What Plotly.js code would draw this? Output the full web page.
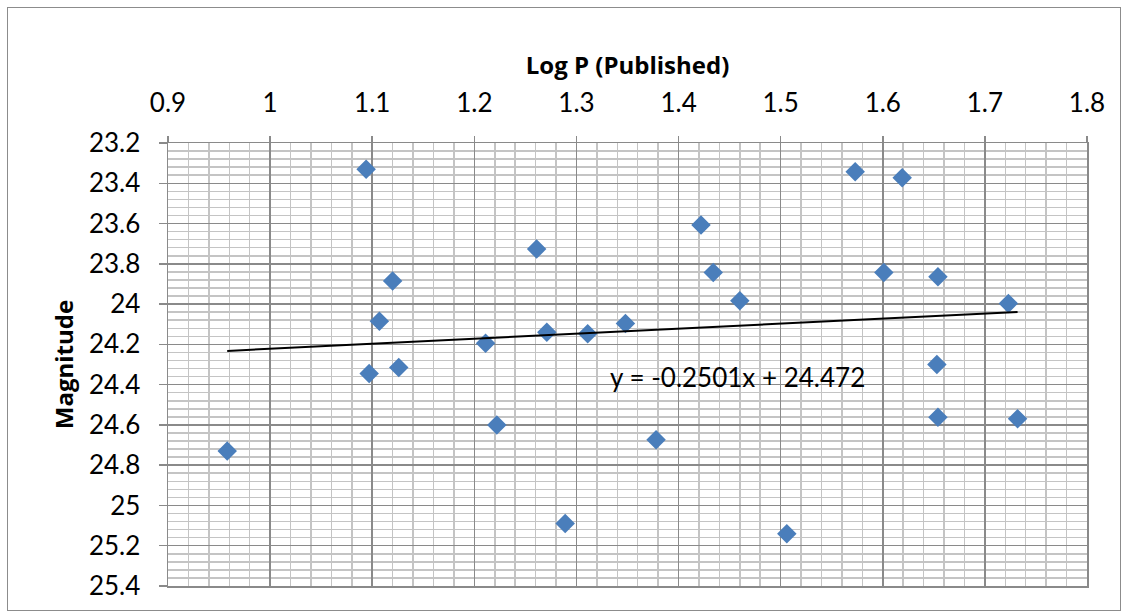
<!DOCTYPE html>
<html>
<head>
<meta charset="utf-8">
<script src="https://cdn.plot.ly/plotly-3.0.1.min.js"></script>
<style>
  html, body { margin: 0; padding: 0; background: #ffffff; }
  #frame { position: absolute; left: 7px; top: 7px; width: 1114px; height: 604px; border: 1px solid #8c8c8c; box-sizing: border-box; }
  #chart { position: absolute; left: 0; top: 0; width: 1129px; height: 616px; }
</style>
</head>
<body>
<div id="frame"></div>
<div id="chart"></div>
<script>
// Data
const logP = [0.958, 1.094, 1.120, 1.107, 1.097, 1.126, 1.211, 1.222, 1.261, 1.271,
              1.289, 1.311, 1.348, 1.378, 1.422, 1.434, 1.460, 1.506, 1.573, 1.601,
              1.619, 1.654, 1.653, 1.654, 1.723, 1.732];
const magnitude = [24.73, 23.33, 23.885, 24.085, 24.345, 24.315, 24.195, 24.60, 23.727, 24.14,
                   25.09, 24.147, 24.097, 24.674, 23.607, 23.843, 23.983, 25.14, 23.343, 23.843,
                   23.373, 23.864, 24.30, 24.562, 23.997, 24.57];
const xTickVals = [0.9, 1, 1.1, 1.2, 1.3, 1.4, 1.5, 1.6, 1.7, 1.8];
const yTickVals = [23.2, 23.4, 23.6, 23.8, 24, 24.2, 24.4, 24.6, 24.8, 25, 25.2, 25.4];
// Linear trendline as shown on the chart
const trendSlope = -0.2501;
const trendIntercept = 24.472;
const trendLabel = "y = -0.2501x + 24.472";

const xMin = Math.min(...logP), xMax = Math.max(...logP);
const trendX = [xMin, xMax];
const trendY = trendX.map(x => trendSlope * x + trendIntercept);

const FONT = "Lato, 'Open Sans', sans-serif";
const TITLE_FONT = "'Open Sans', Lato, sans-serif";
const MAJOR = "#8a8a8a", MINOR = "#c4c4c4";

const traces = [
  {
    x: logP, y: magnitude, type: "scatter", mode: "markers",
    marker: { symbol: "diamond", size: 15, color: "#4a7ebb", line: { width: 0 } },
    hoverinfo: "x+y"
  },
  {
    x: trendX, y: trendY, type: "scatter", mode: "lines",
    line: { color: "#000000", width: 2 }, hoverinfo: "skip"
  }
];

const layout = {
  width: 1129, height: 616,
  paper_bgcolor: "rgba(0,0,0,0)", plot_bgcolor: "#ffffff",
  showlegend: false,
  margin: { l: 168, r: 42, t: 143, b: 30 },
  font: { family: FONT, color: "#000000" },
  xaxis: {
    side: "top", range: [0.9, 1.8], tickvals: xTickVals,
    ticks: "outside", ticklen: 6, tickcolor: MAJOR, tickwidth: 1.5,
    ticklabelstandoff: 13,
    tickfont: { family: FONT, size: 26, color: "#000000" },
    showgrid: true, gridcolor: MAJOR, gridwidth: 1.5,
    minor: { dtick: 0.02, showgrid: true, gridcolor: MINOR, gridwidth: 1.5, ticks: "" },
    showline: true, linecolor: MAJOR, linewidth: 1.5, mirror: true,
    zeroline: false,
    title: { text: "Log P (Published)", font: { family: TITLE_FONT, size: 24, color: "#000000", weight: "bold" }, standoff: 4 }
  },
  yaxis: {
    range: [25.4, 23.2], tickvals: yTickVals,
    ticks: "outside", ticklen: 8, tickcolor: MAJOR, tickwidth: 1.5,
    ticklabelstandoff: 13,
    tickfont: { family: FONT, size: 26, color: "#000000" },
    showgrid: true, gridcolor: MAJOR, gridwidth: 1.5,
    minor: { dtick: 0.04, tick0: 23.2, showgrid: true, gridcolor: MINOR, gridwidth: 1.5, ticks: "" },
    showline: true, linecolor: MAJOR, linewidth: 1.5, mirror: true,
    zeroline: false,
    title: { text: "Magnitude", font: { family: TITLE_FONT, size: 24, color: "#000000", weight: "bold" }, standoff: 8 }
  },
  annotations: [
    {
      x: 1.331, y: 24.362, xref: "x", yref: "y", text: trendLabel,
      showarrow: false, xanchor: "left", yanchor: "middle",
      font: { family: FONT, size: 26, color: "#000000" }
    }
  ]
};

Plotly.newPlot("chart", traces, layout, { displayModeBar: false, staticPlot: true });
</script>
</body>
</html>
